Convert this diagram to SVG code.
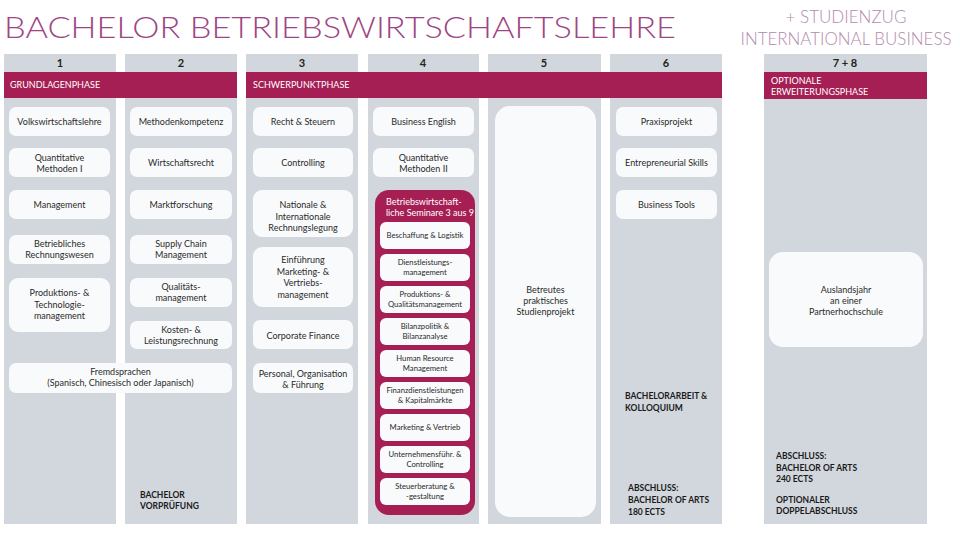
<svg xmlns="http://www.w3.org/2000/svg" width="960" height="536" viewBox="0 0 960 536">
<style>
.col{fill:#d1d7dd}
.bar{fill:#a51f54}
.box{fill:#f9fafb}
.t{font-family:Lato,"Noto Sans","Liberation Sans",sans-serif;font-size:9px;fill:#2a2a2a;text-anchor:middle}
.ts{font-family:Lato,"Noto Sans","Liberation Sans",sans-serif;font-size:7.7px;fill:#2a2a2a;text-anchor:middle}
.num{font-family:Lato,"Noto Sans","Liberation Sans",sans-serif;font-size:11px;font-weight:bold;fill:#222;text-anchor:middle}
.ph{font-family:Lato,"Noto Sans","Liberation Sans",sans-serif;font-size:9px;fill:#fff}
.b{font-family:Lato,"Noto Sans","Liberation Sans",sans-serif;font-size:8.5px;font-weight:bold;fill:#1a1a1a}
.title{font-family:Lato,Inter,"Liberation Sans",sans-serif;font-weight:300;fill:#9d4585}
.sub{font-family:Lato,Inter,"Liberation Sans",sans-serif;font-weight:300;fill:#b38aac;font-size:17px;text-anchor:middle}
</style>
<rect width="960" height="536" fill="#ffffff"/>
<text class="title" x="4" y="38" font-size="30" textLength="672" lengthAdjust="spacingAndGlyphs">BACHELOR BETRIEBSWIRTSCHAFTSLEHRE</text>
<text class="sub" x="846" y="23">+ STUDIENZUG</text>
<text class="sub" x="846" y="45" textLength="211" lengthAdjust="spacingAndGlyphs">INTERNATIONAL BUSINESS</text>

<g id="columns">
<rect class="col" x="4" y="54" width="112" height="470"/>
<rect class="col" x="125" y="54" width="112" height="470"/>
<rect class="col" x="246" y="54" width="112" height="470"/>
<rect class="col" x="368" y="54" width="111" height="470"/>
<rect class="col" x="488" y="54" width="113" height="470"/>
<rect class="col" x="610" y="54" width="112" height="470"/>
<rect class="col" x="764" y="54" width="163" height="470"/>
<text class="num" x="60" y="67">1</text>
<text class="num" x="181" y="67">2</text>
<text class="num" x="302" y="67">3</text>
<text class="num" x="423" y="67">4</text>
<text class="num" x="544" y="67">5</text>
<text class="num" x="666" y="67">6</text>
<text class="num" x="845" y="67">7 + 8</text>
</g>

<g id="phase-grundlagen">
<rect class="bar" x="4" y="72" width="233" height="26"/>
<text class="ph" x="10" y="88">GRUNDLAGENPHASE</text>
</g>
<g id="phase-schwerpunkt">
<rect class="bar" x="246" y="72" width="476" height="26"/>
<text class="ph" x="253" y="88">SCHWERPUNKTPHASE</text>
</g>
<g id="phase-optional">
<rect class="bar" x="764" y="72" width="163" height="27"/>
<text class="ph" x="771" y="84">OPTIONALE</text>
<text class="ph" x="771" y="95">ERWEITERUNGSPHASE</text>
</g>

<g id="connectors"></g>

<!-- Column 1 -->
<g id="vwl"><rect class="box" x="9" y="107" width="101" height="29" rx="7"/><text class="t" x="59.5" y="125">Volkswirtschaftslehre</text></g>
<g id="quant1"><rect class="box" x="9" y="148" width="101" height="29" rx="7"/><text class="t" x="59.5" y="161">Quantitative</text><text class="t" x="59.5" y="172">Methoden I</text></g>
<g id="management"><rect class="box" x="9" y="190" width="101" height="29" rx="7"/><text class="t" x="59.5" y="208">Management</text></g>
<g id="brw"><rect class="box" x="9" y="235" width="101" height="29" rx="7"/><text class="t" x="59.5" y="247">Betriebliches</text><text class="t" x="59.5" y="258">Rechnungswesen</text></g>
<g id="prodtech"><rect class="box" x="9" y="278" width="101" height="54" rx="9"/><text class="t" x="59.5" y="296">Produktions- &amp;</text><text class="t" x="59.5" y="307.5">Technologie-</text><text class="t" x="59.5" y="319">management</text></g>

<!-- Column 2 -->
<g id="methoden"><rect class="box" x="130" y="107" width="102" height="29" rx="7"/><text class="t" x="181" y="125">Methodenkompetenz</text></g>
<g id="wirtschaftsrecht"><rect class="box" x="130" y="148" width="102" height="29" rx="7"/><text class="t" x="181" y="166">Wirtschaftsrecht</text></g>
<g id="marktforschung"><rect class="box" x="130" y="190" width="102" height="29" rx="7"/><text class="t" x="181" y="208">Marktforschung</text></g>
<g id="scm"><rect class="box" x="130" y="235" width="102" height="29" rx="7"/><text class="t" x="181" y="247">Supply Chain</text><text class="t" x="181" y="258">Management</text></g>
<g id="qm"><rect class="box" x="130" y="278" width="102" height="29" rx="7"/><text class="t" x="181" y="290">Qualitäts-</text><text class="t" x="181" y="301">management</text></g>
<g id="klr"><rect class="box" x="130" y="321" width="102" height="28" rx="7"/><text class="t" x="181" y="333">Kosten- &amp;</text><text class="t" x="181" y="344">Leistungsrechnung</text></g>
<g id="fremdsprachen"><rect class="box" x="9" y="363" width="223" height="30" rx="7"/><text class="t" x="120.5" y="375">Fremdsprachen</text><text class="t" x="120.5" y="386">(Spanisch, Chinesisch oder Japanisch)</text></g>
<g id="vorpruefung"><text class="b" x="140" y="498">BACHELOR</text><text class="b" x="140" y="509">VORPRÜFUNG</text></g>

<!-- Column 3 -->
<g id="recht"><rect class="box" x="253" y="107" width="100" height="29" rx="7"/><text class="t" x="303" y="125">Recht &amp; Steuern</text></g>
<g id="controlling"><rect class="box" x="253" y="148" width="100" height="29" rx="7"/><text class="t" x="303" y="166">Controlling</text></g>
<g id="rechnungslegung"><rect class="box" x="253" y="190" width="100" height="47" rx="9"/><text class="t" x="303" y="208">Nationale &amp;</text><text class="t" x="303" y="219.5">Internationale</text><text class="t" x="303" y="231">Rechnungslegung</text></g>
<g id="marketing"><rect class="box" x="253" y="247" width="100" height="60" rx="9"/><text class="t" x="303" y="263">Einführung</text><text class="t" x="303" y="274.5">Marketing- &amp;</text><text class="t" x="303" y="286">Vertriebs-</text><text class="t" x="303" y="297.5">management</text></g>
<g id="corpfin"><rect class="box" x="253" y="320" width="100" height="29" rx="7"/><text class="t" x="303" y="339">Corporate Finance</text></g>
<g id="personal"><rect class="box" x="253" y="363" width="100" height="30" rx="7"/><text class="t" x="303" y="377">Personal, Organisation</text><text class="t" x="303" y="388">&amp; Führung</text></g>

<!-- Column 4 -->
<g id="english"><rect class="box" x="373" y="107" width="101" height="29" rx="7"/><text class="t" x="423.5" y="125">Business English</text></g>
<g id="quant2"><rect class="box" x="373" y="148" width="101" height="29" rx="7"/><text class="t" x="423.5" y="161">Quantitative</text><text class="t" x="423.5" y="172">Methoden II</text></g>
<g id="seminare">
<rect class="bar" x="375" y="190" width="100" height="325" rx="14"/>
<text class="ph" x="386" y="205" font-size="8.8">Betriebswirtschaft-</text>
<text class="ph" x="386" y="216" font-size="8.8">liche Seminare 3 aus 9</text>
<g id="sem-beschaffung"><rect class="box" x="380" y="222" width="90" height="27" rx="6"/><text class="ts" x="425" y="238">Beschaffung &amp; Logistik</text></g>
<g id="sem-dienst"><rect class="box" x="380" y="254" width="90" height="27" rx="6"/><text class="ts" x="425" y="265">Dienstleistungs-</text><text class="ts" x="425" y="275">management</text></g>
<g id="sem-prod"><rect class="box" x="380" y="286" width="90" height="27" rx="6"/><text class="ts" x="425" y="297">Produktions- &amp;</text><text class="ts" x="425" y="307">Qualitätsmanagement</text></g>
<g id="sem-bilanz"><rect class="box" x="380" y="318" width="90" height="27" rx="6"/><text class="ts" x="425" y="329">Bilanzpolitik &amp;</text><text class="ts" x="425" y="339">Bilanzanalyse</text></g>
<g id="sem-hr"><rect class="box" x="380" y="350" width="90" height="27" rx="6"/><text class="ts" x="425" y="361">Human Resource</text><text class="ts" x="425" y="371">Management</text></g>
<g id="sem-finanz"><rect class="box" x="380" y="382" width="90" height="27" rx="6"/><text class="ts" x="425" y="393">Finanzdienstleistungen</text><text class="ts" x="425" y="403">&amp; Kapitalmärkte</text></g>
<g id="sem-marketing"><rect class="box" x="380" y="414" width="90" height="27" rx="6"/><text class="ts" x="425" y="430">Marketing &amp; Vertrieb</text></g>
<g id="sem-unternehmen"><rect class="box" x="380" y="446" width="90" height="27" rx="6"/><text class="ts" x="425" y="457">Unternehmensführ. &amp;</text><text class="ts" x="425" y="467">Controlling</text></g>
<g id="sem-steuer"><rect class="box" x="380" y="478" width="90" height="27" rx="6"/><text class="ts" x="425" y="489">Steuerberatung &amp;</text><text class="ts" x="425" y="499">-gestaltung</text></g>
</g>

<!-- Column 5 -->
<g id="studienprojekt"><rect class="box" x="495" y="106" width="101" height="411" rx="15"/><text class="t" x="545.5" y="293">Betreutes</text><text class="t" x="545.5" y="304">praktisches</text><text class="t" x="545.5" y="315">Studienprojekt</text></g>

<!-- Column 6 -->
<g id="praxisprojekt"><rect class="box" x="616" y="107" width="101" height="29" rx="7"/><text class="t" x="666.5" y="125">Praxisprojekt</text></g>
<g id="entrepreneurial"><rect class="box" x="616" y="148" width="101" height="29" rx="7"/><text class="t" x="666.5" y="166">Entrepreneurial Skills</text></g>
<g id="tools"><rect class="box" x="616" y="190" width="101" height="29" rx="7"/><text class="t" x="666.5" y="208">Business Tools</text></g>
<g id="bachelorarbeit"><text class="b" x="625" y="399">BACHELORARBEIT &amp;</text><text class="b" x="625" y="411">KOLLOQUIUM</text></g>
<g id="abschluss180"><text class="b" x="628" y="491">ABSCHLUSS:</text><text class="b" x="628" y="503">BACHELOR OF ARTS</text><text class="b" x="628" y="515">180 ECTS</text></g>

<!-- Column 7+8 -->
<g id="auslandsjahr"><rect class="box" x="769" y="252" width="154" height="95" rx="14"/><text class="t" x="846" y="293">Auslandsjahr</text><text class="t" x="846" y="304">an einer</text><text class="t" x="846" y="315">Partnerhochschule</text></g>
<g id="abschluss240"><text class="b" x="776" y="459">ABSCHLUSS:</text><text class="b" x="776" y="471">BACHELOR OF ARTS</text><text class="b" x="776" y="482">240 ECTS</text><text class="b" x="776" y="503">OPTIONALER</text><text class="b" x="776" y="514">DOPPELABSCHLUSS</text></g>
</svg>
